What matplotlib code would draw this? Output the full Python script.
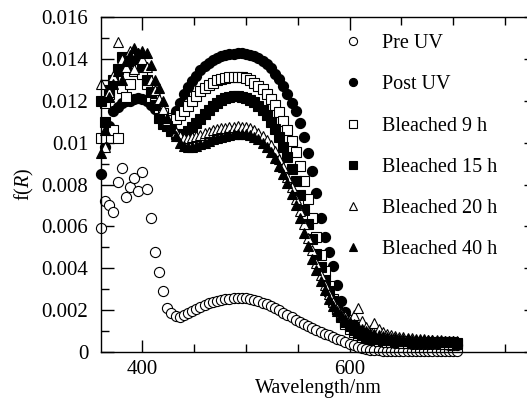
import numpy as np
import matplotlib
matplotlib.use('Agg')
import matplotlib.pyplot as plt
from matplotlib.ticker import MultipleLocator, FuncFormatter

plt.rcParams['font.family'] = ['Liberation Serif', 'DejaVu Serif']
plt.rcParams['mathtext.fontset'] = 'custom'
plt.rcParams['mathtext.rm'] = 'Liberation Serif'
plt.rcParams['mathtext.it'] = 'Liberation Serif:italic'

# wavelength grid (nm), one reading every 4 nm
wavelength = list(range(360, 705, 4))

# f(R) values in units of 1e-3
pre_uv = [5.9, 7.2, 7.0, 6.7, 8.1, 8.8, 7.4, 7.9, 8.3, 7.7, 8.6, 7.8, 6.4, 4.8, 3.8, 2.9,
          2.1, 1.85, 1.7, 1.68, 1.75, 1.85, 1.95, 2.05, 2.15, 2.25, 2.32, 2.4, 2.45, 2.5,
          2.52, 2.55, 2.57, 2.58, 2.58, 2.56,
          2.52, 2.47, 2.42, 2.36, 2.28, 2.2, 2.1, 2.0, 1.88, 1.76, 1.65, 1.55, 1.45, 1.35,
          1.25, 1.15, 1.06, 0.97, 0.88, 0.8,
          0.72, 0.64, 0.56, 0.48, 0.4, 0.32, 0.25, 0.19, 0.14, 0.11, 0.09, 0.08, 0.07, 0.07,
          0.06, 0.06, 0.06, 0.05, 0.05, 0.05,
          0.05, 0.05, 0.05, 0.04, 0.04, 0.04, 0.04, 0.04, 0.04, 0.04, 0.04]

post_uv = [8.5, 9.8, 10.8, 11.5, 11.7, 11.9, 12.0, 12.0, 12.1, 12.15, 12.1, 12.0, 11.8, 11.6, 11.4, 11.25,
           11.15, 11.2, 11.5, 11.9, 12.3, 12.65, 12.95, 13.2, 13.45, 13.65, 13.8, 13.95, 14.05, 14.12,
           14.18, 14.22, 14.25, 14.27, 14.28, 14.25,
           14.2, 14.12, 14.02, 13.9, 13.75, 13.55, 13.3, 13.05, 12.7, 12.3, 11.9, 11.5, 10.95, 10.25,
           9.5, 8.65, 7.6, 6.4, 5.5, 4.8,
           4.1, 3.2, 2.45, 1.9, 1.55, 1.3, 1.12, 0.98, 0.85, 0.75, 0.67, 0.6, 0.55, 0.5,
           0.47, 0.45, 0.43, 0.42, 0.41, 0.4,
           0.4, 0.39, 0.38, 0.38, 0.37, 0.37, 0.36, 0.36, 0.35, 0.35, 0.35]

bleached_9h = [10.2, 11.9, 12.3, 10.6, 10.2, 12.6, 12.2, 12.8, 13.4, 13.6, 13.3, 12.8, 12.2, 11.9, 11.6, 11.4,
               11.2, 11.1, 11.15, 11.3, 11.5, 11.75, 12.0, 12.25, 12.45, 12.6, 12.75, 12.87, 12.97, 13.05,
               13.1, 13.13, 13.15, 13.15, 13.12, 13.07,
               12.98, 12.87, 12.72, 12.55, 12.33, 12.08, 11.8, 11.45, 11.05, 10.6, 10.1, 9.55, 8.9, 8.15,
               7.3, 6.4, 5.5, 4.65, 3.85, 3.15,
               2.55, 2.05, 1.65, 1.35, 1.12, 0.95, 0.82, 0.72, 0.65, 0.6, 0.56, 0.53, 0.51, 0.49,
               0.48, 0.47, 0.46, 0.45, 0.45, 0.44,
               0.44, 0.43, 0.43, 0.42, 0.42, 0.41, 0.41, 0.4, 0.4, 0.4, 0.4]

bleached_15h = [12.0, 11.0, 12.5, 13.0, 13.5, 14.1, 13.7, 13.9, 14.2, 14.0, 13.6, 13.0, 12.4, 11.8, 11.2, 10.9,
                10.8, 10.55, 10.4, 10.35, 10.4, 10.55, 10.75, 10.95, 11.15, 11.35, 11.55, 11.75, 11.9, 12.02,
                12.12, 12.18, 12.22, 12.23, 12.2, 12.15,
                12.05, 11.92, 11.75, 11.55, 11.3, 11.0, 10.65, 10.25, 9.8, 9.3, 8.75, 8.15, 7.5, 6.8,
                6.1, 5.4, 4.7, 4.05, 3.45, 2.9,
                2.45, 2.05, 1.72, 1.45, 1.23, 1.05, 0.92, 0.82, 0.74, 0.68, 0.64, 0.6, 0.58, 0.56,
                0.55, 0.54, 0.53, 0.52, 0.51, 0.5,
                0.5, 0.49, 0.49, 0.48, 0.48, 0.47, 0.47, 0.46, 0.46, 0.46, 0.45]

bleached_20h = [12.8, 9.8, 12.4, 13.2, 14.8, 14.0, 13.6, 14.4, 13.5, 14.3, 14.0, 13.6, 13.0, 12.5, 12.1, 11.6,
                11.1, 10.75, 10.5, 10.3, 10.2, 10.2, 10.25, 10.3, 10.38, 10.45, 10.52, 10.58, 10.63, 10.68,
                10.72, 10.75, 10.77, 10.78, 10.77, 10.74,
                10.68, 10.6, 10.48, 10.33, 10.13, 9.88, 9.58, 9.23, 8.83, 8.38, 7.88, 7.33, 6.73, 6.1,
                5.45, 4.85, 4.25, 3.7, 3.2, 2.78,
                2.4, 2.1, 1.88, 1.7, 1.6, 1.75, 2.1, 1.5, 1.2, 1.05, 1.4, 1.1, 0.95, 0.85,
                0.8, 0.76, 0.72, 0.7, 0.67, 0.65,
                0.63, 0.61, 0.6, 0.58, 0.57, 0.56, 0.55, 0.54, 0.53, 0.52, 0.5]

bleached_40h = [9.5, 10.6, 12.2, 12.8, 13.4, 13.0, 13.9, 14.2, 14.5, 14.3, 14.4, 14.3, 13.7, 13.0, 12.6, 12.0,
                11.2, 10.7, 10.3, 10.0, 9.85, 9.8, 9.8, 9.85, 9.92, 10.0, 10.08, 10.15, 10.22, 10.28,
                10.33, 10.37, 10.4, 10.42, 10.42, 10.4,
                10.35, 10.27, 10.15, 10.0, 9.8, 9.55, 9.25, 8.9, 8.5, 8.05, 7.55, 7.0, 6.4, 5.7,
                5.05, 4.45, 3.9, 3.4, 2.95, 2.55,
                2.2, 1.95, 1.75, 1.58, 1.44, 1.32, 1.2, 1.1, 1.0, 0.92, 0.86, 0.8, 0.76, 0.72,
                0.69, 0.66, 0.64, 0.62, 0.6, 0.59,
                0.58, 0.57, 0.56, 0.55, 0.55, 0.54, 0.53, 0.53, 0.52, 0.52, 0.51]

labels = ['Pre UV', 'Post UV', 'Bleached 9 h', 'Bleached 15 h', 'Bleached 20 h', 'Bleached 40 h']
markers = ['o', 'o', 's', 's', '^', '^']
faces = ['white', 'black', 'white', 'black', 'white', 'black']
series = [pre_uv, post_uv, bleached_9h, bleached_15h, bleached_20h, bleached_40h]

fig = plt.figure(figsize=(5.27, 4.0), dpi=100)
fig.patch.set_facecolor('white')
ax = fig.add_axes([101 / 527, 48 / 400, 435 / 527, 335 / 400])

wl = np.array(wavelength)
for vals, lab, mk, fc in zip(series, labels, markers, faces):
    ax.plot(wl, np.array(vals) * 1e-3, linestyle='none', marker=mk, markersize=7.3,
            markerfacecolor=fc, markeredgecolor='black', markeredgewidth=0.8,
            label=lab, clip_on=False)

ax.set_xlim(360, 780)
ax.set_ylim(0, 0.016)
ax.xaxis.set_major_locator(MultipleLocator(200))
ax.xaxis.set_minor_locator(MultipleLocator(50))
ax.yaxis.set_major_locator(MultipleLocator(0.002))
ax.yaxis.set_minor_locator(MultipleLocator(0.001))
ax.yaxis.set_major_formatter(FuncFormatter(lambda v, p: '%g' % round(v, 4)))

ax.tick_params(which='both', direction='in', top=True, right=True, width=1.0)
ax.tick_params(which='major', length=9, labelsize=15)
ax.tick_params(which='minor', length=6)
ax.tick_params(axis='y', which='major', pad=9)
ax.tick_params(axis='x', which='major', pad=6)
for sp in ax.spines.values():
    sp.set_linewidth(1.0)

ax.set_xlabel('Wavelength/nm', fontsize=14.5, labelpad=0)
ax.set_ylabel(r'f($R$)', fontsize=14.5, labelpad=4)

leg = ax.legend(loc='upper left', bbox_to_anchor=(336 / 527, 1 - 26 / 400),
                bbox_transform=fig.transFigure, frameon=False, numpoints=1,
                fontsize=14.5, handlelength=0.9, handletextpad=1.0, labelspacing=1.1,
                borderaxespad=0, markerscale=0.8)

plt.savefig('out.png', dpi=100, facecolor='white')
